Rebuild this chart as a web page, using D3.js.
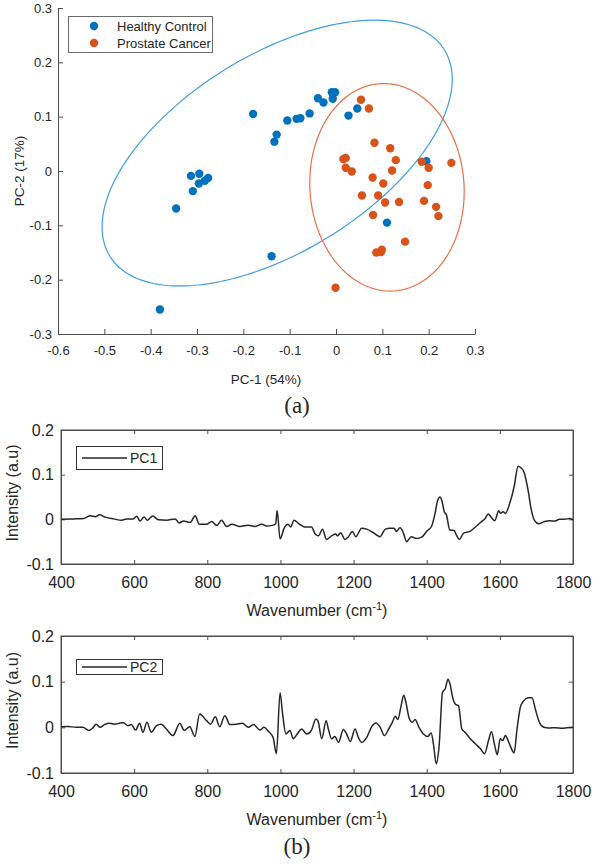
<!DOCTYPE html>
<html><head><meta charset="utf-8">
<script src="https://cdn.jsdelivr.net/npm/d3@7"></script>
<style>
body{margin:0;background:#fff}
svg{display:block}
text{font-family:Arial,"Liberation Sans",Helvetica,sans-serif;fill:#262626}
</style>
</head><body>
<svg id="c" width="595" height="864"></svg>
<script>
// ---------------- data ----------------
const seriesNames = ["Healthy Control", "Prostate Cancer"];
const healthyX = [-0.380,-0.345,-0.313,-0.295,-0.309,-0.296,-0.283,-0.276,-0.179,-0.133,-0.128,-0.105,-0.085,-0.077,-0.057,-0.039,-0.027,-0.009,-0.002,-0.007,0.027,0.046,0.195,0.110,-0.139];
const healthyY = [-0.255,-0.069,-0.009,-0.005,-0.037,-0.023,-0.018,-0.013,0.105,0.054,0.067,0.093,0.096,0.097,0.106,0.134,0.126,0.145,0.145,0.133,0.102,0.115,0.018,-0.095,-0.157];
const cancerX = [0.054,0.071,0.083,0.117,0.016,0.021,0.129,0.021,0.034,0.121,0.185,0.200,0.249,0.079,0.102,0.198,0.056,0.091,0.106,0.136,0.190,0.216,0.221,0.080,0.149,0.087,0.097,0.099,-0.001];
const cancerY = [0.131,0.115,0.052,0.042,0.022,0.024,0.020,0.006,-0.001,0.001,0.017,0.006,0.015,-0.012,-0.023,-0.026,-0.045,-0.045,-0.058,-0.057,-0.055,-0.066,-0.083,-0.081,-0.130,-0.150,-0.149,-0.145,-0.215];
// confidence ellipses (centre and two conjugate semi-diameters, data units)
const ellipseHealthy = [-0.127, 0.033, 0.361, 0.190, -0.1117, 0.1541];
const ellipseCancer  = [0.110, -0.030, 0.1665, 0.000, -0.007, 0.191];
const scatterXTicks = [-0.6,-0.5,-0.4,-0.3,-0.2,-0.1,0,0.1,0.2,0.3];
const scatterYTicks = [-0.3,-0.2,-0.1,0,0.1,0.2,0.3];

const pc1Wn  = [400,434,462,480,494,505,521,544,566,580,598,607,616,627,636,651,666,689,712,723,735,753,767,778,798,812,826,839,853,867,889,912,930,949,962,980,987,991,999,1010,1021,1028,1037,1051,1067,1085,1095,1104,1115,1126,1140,1151,1156,1165,1176,1185,1197,1206,1222,1236,1254,1272,1287,1299,1311,1317,1327,1336,1345,1358,1372,1386,1402,1413,1422,1430,1436,1442,1448,1454,1463,1475,1481,1489,1501,1518,1536,1550,1560,1568,1577,1586,1597,1602,1609,1615,1627,1639,1650,1657,1666,1677,1686,1695,1706,1722,1736,1750,1763,1777,1791,1800];
const pc1Val = [0,0.001,0.002,0.008,0.006,0.010,0.005,0.001,-0.002,0.001,0.001,0.007,-0.004,0.005,-0.002,0.0075,-0.001,-0.002,0.001,-0.008,-0.004,-0.007,0.008,-0.011,-0.011,-0.005,-0.014,-0.002,-0.016,-0.011,-0.016,-0.013,-0.016,-0.011,-0.015,-0.013,-0.010,0.020,-0.044,-0.020,-0.011,-0.017,-0.002,-0.010,-0.017,-0.017,-0.033,-0.037,-0.022,-0.045,-0.037,-0.033,-0.037,-0.030,-0.045,-0.040,-0.027,-0.039,-0.020,-0.022,-0.030,-0.039,-0.022,-0.020,-0.020,-0.027,-0.019,-0.030,-0.050,-0.039,-0.043,-0.040,-0.025,-0.016,0.010,0.043,0.050,0.040,0.017,0.010,-0.024,-0.025,-0.035,-0.045,-0.031,-0.027,-0.015,-0.005,0.002,0.012,0.004,-0.003,0.019,0.0135,0.017,0.0135,0.036,0.073,0.119,0.116,0.106,0.066,0.021,-0.003,-0.010,-0.005,-0.003,-0.004,0,0,0.002,-0.001];

const pc2Wn  = [400,419,442,460,476,487,496,507,519,533,547,560,571,583,592,604,615,624,635,647,661,674,688,706,725,737,752,766,779,798,809,822,834,848,862,880,896,912,927,944,955,967,980,989,999,1006,1015,1026,1035,1046,1058,1072,1085,1097,1103,1113,1125,1131,1140,1149,1159,1172,1181,1191,1204,1213,1222,1236,1250,1261,1273,1284,1297,1306,1314,1321,1330,1337,1343,1352,1361,1368,1379,1391,1403,1412,1419,1426,1434,1443,1451,1458,1464,1471,1478,1487,1496,1505,1519,1533,1547,1558,1569,1577,1586,1593,1601,1608,1615,1626,1639,1647,1656,1665,1677,1688,1697,1708,1720,1734,1752,1770,1784,1800];
const pc2Val = [0.0015,0.002,0,0,-0.007,-0.0015,0.007,0,0.006,0.009,0.007,0.009,0.010,0.0036,0.006,-0.006,0.009,-0.011,0.011,-0.011,0.0036,0.007,-0.0036,-0.018,0.009,-0.007,0.0015,-0.020,0.029,0.0146,0.007,0.023,0.0015,0.0255,0.006,0.007,0.009,0,0.006,-0.006,0,-0.0087,-0.022,-0.058,0.076,0.029,-0.0146,-0.007,-0.025,-0.0146,-0.0036,-0.0146,-0.006,0.018,0.013,-0.025,0.0146,-0.0036,-0.025,-0.020,-0.033,-0.005,-0.0146,-0.031,-0.0036,-0.022,-0.033,-0.022,0.002,0.0095,0,-0.018,-0.002,0.011,0.024,0.017,0.047,0.0705,0.055,0.020,0.011,0.017,0,-0.0146,-0.020,-0.0124,-0.040,-0.080,-0.040,0.076,0.085,0.1055,0.094,0.065,0.051,0.047,-0.0036,-0.011,-0.025,-0.036,-0.047,-0.058,-0.029,-0.0095,-0.040,-0.060,-0.025,-0.029,-0.018,-0.036,-0.056,-0.0036,0.044,0.058,0.065,0.065,0.040,0.011,0,-0.0015,-0.0007,-0.002,-0.0007,0];

const specXTicks = [400,600,800,1000,1200,1400,1600,1800];
const specYTicks = [-0.1,0,0.1,0.2];

// ---------------- drawing ----------------
const svg = d3.select("#c");
const fmt = d => String(+(+d).toFixed(1));
const axisCol = "#4d4d4d";
function styleAxis(g, fs){
  g.select(".domain").attr("stroke", axisCol).attr("stroke-width",1);
  g.selectAll(".tick line").attr("stroke", axisCol);
  g.selectAll(".tick text").attr("fill","#262626").attr("font-size",fs).style("font-family","Arial,'Liberation Sans',sans-serif");
}

// ---- (a) scatter ----
const sx = d3.scaleLinear().domain([-0.6,0.3]).range([58,475]);
const sy = d3.scaleLinear().domain([-0.3,0.3]).range([334,8]);

svg.append("g").attr("transform","translate(0,334)")
  .call(d3.axisBottom(sx).tickValues(scatterXTicks).tickFormat(fmt).tickSizeInner(-5).tickSizeOuter(0).tickPadding(12))
  .call(g=>styleAxis(g,13));
svg.append("g").attr("transform","translate(58,0)")
  .call(d3.axisLeft(sy).tickValues(scatterYTicks).tickFormat(fmt).tickSizeInner(-5).tickSizeOuter(0).tickPadding(6))
  .call(g=>styleAxis(g,13));

function ellipsePts(e){
  const pts=[];
  for(let i=0;i<=180;i++){const t=i/180*2*Math.PI;
    pts.push([e[0]+e[2]*Math.cos(t)+e[4]*Math.sin(t), e[1]+e[3]*Math.cos(t)+e[5]*Math.sin(t)]);}
  return pts;
}
const eLine = d3.line().x(d=>sx(d[0])).y(d=>sy(d[1]));
svg.append("path").attr("d",eLine(ellipsePts(ellipseHealthy))).attr("fill","none").attr("stroke","#3f9ee3").attr("stroke-width",1.2);
svg.append("path").attr("d",eLine(ellipsePts(ellipseCancer))).attr("fill","none").attr("stroke","#ec6f45").attr("stroke-width",1.2);

const colors = ["#0072BD","#D95319"];
svg.append("g").selectAll("circle").data(healthyX.map((x,i)=>[x,healthyY[i]])).join("circle")
  .attr("cx",d=>sx(d[0])).attr("cy",d=>sy(d[1])).attr("r",4.2).attr("fill",colors[0]);
svg.append("g").selectAll("circle").data(cancerX.map((x,i)=>[x,cancerY[i]])).join("circle")
  .attr("cx",d=>sx(d[0])).attr("cy",d=>sy(d[1])).attr("r",4.2).attr("fill",colors[1]);

// legend
svg.append("rect").attr("x",68.5).attr("y",16.5).attr("width",144).attr("height",36).attr("fill","#fff").attr("stroke","#6b6b6b");
seriesNames.forEach((n,i)=>{
  svg.append("circle").attr("cx",94).attr("cy",26+i*17).attr("r",4.2).attr("fill",colors[i]);
  svg.append("text").attr("x",117).attr("y",26+i*17).attr("dy","0.35em").attr("font-size",13).text(n);
});
svg.append("text").attr("transform","translate(19,171) rotate(-90)").attr("text-anchor","middle").attr("dy","0.35em").attr("font-size",13.5).text("PC-2 (17%)");
svg.append("text").attr("x",266).attr("y",379).attr("text-anchor","middle").attr("dy","0.35em").attr("font-size",13.5).text("PC-1 (54%)");
svg.append("text").attr("x",297).attr("y",405).attr("text-anchor","middle").attr("dy","0.35em").attr("font-size",23).style("font-family","'Liberation Serif','Times New Roman',serif").text("(a)");

// ---- (b) spectra ----
function spectrum(top, bottom, wn, val, name, legBox){
  const x = d3.scaleLinear().domain([400,1800]).range([61,573]);
  const y = d3.scaleLinear().domain([-0.1,0.2]).range([bottom,top]);
  svg.append("rect").attr("x",61).attr("y",top).attr("width",512).attr("height",bottom-top).attr("fill","none").attr("stroke",axisCol);
  svg.append("g").attr("transform",`translate(0,${bottom})`)
    .call(d3.axisBottom(x).tickValues(specXTicks).tickFormat(d=>d).tickSizeInner(-4).tickSizeOuter(0).tickPadding(13))
    .call(g=>styleAxis(g,16));
  svg.append("g").attr("transform",`translate(0,${top})`)
    .call(d3.axisTop(x).tickValues(specXTicks).tickFormat("").tickSizeInner(-4).tickSizeOuter(0))
    .call(g=>styleAxis(g,16));
  svg.append("g").attr("transform","translate(61,0)")
    .call(d3.axisLeft(y).tickValues(specYTicks).tickFormat(fmt).tickSizeInner(-4).tickSizeOuter(0).tickPadding(7))
    .call(g=>styleAxis(g,16));
  svg.append("g").attr("transform","translate(573,0)")
    .call(d3.axisRight(y).tickValues(specYTicks).tickFormat("").tickSizeInner(-4).tickSizeOuter(0))
    .call(g=>styleAxis(g,16));
  const line = d3.line().x((d,i)=>x(wn[i])).y(d=>y(d)).curve(d3.curveMonotoneX);
  svg.append("path").attr("d",line(val)).attr("fill","none").attr("stroke","#262626").attr("stroke-width",1.5);
  // legend
  svg.append("rect").attr("x",76.5).attr("y",legBox[0]).attr("width",86).attr("height",legBox[1]).attr("fill","#fff").attr("stroke","#333");
  const ly = legBox[0]+legBox[1]/2;
  svg.append("line").attr("x1",82).attr("x2",127).attr("y1",ly).attr("y2",ly).attr("stroke","#262626").attr("stroke-width",1.5);
  svg.append("text").attr("x",130).attr("y",ly).attr("dy","0.35em").attr("font-size",14).text(name);
  // labels
  svg.append("text").attr("transform",`translate(12,${(top+bottom)/2-4}) rotate(-90)`).attr("text-anchor","middle").attr("dy","0.35em").attr("font-size",16).text("Intensity (a.u)");
  const xl = svg.append("text").attr("x",317).attr("y",bottom+46).attr("text-anchor","middle").attr("dy","0.35em").attr("font-size",16);
  xl.append("tspan").text("Wavenumber (cm");
  xl.append("tspan").attr("dy",-6).attr("font-size",11).text("-1");
  xl.append("tspan").attr("dy",6).text(")");
}
spectrum(430, 564, pc1Wn, pc1Val, "PC1", [446.5, 23]);
spectrum(636, 773, pc2Wn, pc2Val, "PC2", [659.5, 15]);
svg.append("text").attr("x",297).attr("y",846).attr("text-anchor","middle").attr("dy","0.35em").attr("font-size",23).style("font-family","'Liberation Serif','Times New Roman',serif").text("(b)");
</script>
</body></html>
